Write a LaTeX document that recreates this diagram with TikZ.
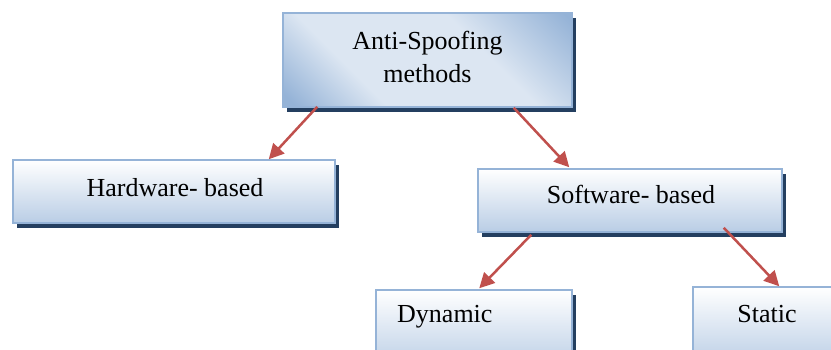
\documentclass[tikz,border=0pt]{standalone}
\usepackage{fontspec}
\setmainfont{Liberation Serif}
\usetikzlibrary{arrows.meta,shadows}
\definecolor{bordc}{HTML}{95B3D7}
\definecolor{shadc}{HTML}{243F60}
\definecolor{darkb}{HTML}{95B3D7}
\definecolor{lightb}{HTML}{DCE6F2}
\definecolor{botb}{HTML}{B9CDE5}
\definecolor{arrc}{HTML}{C0504D}
\pgfdeclarehorizontalshading{diagblue}{100bp}{color(0bp)=(darkb); color(17bp)=(darkb); color(34bp)=(lightb); color(62bp)=(lightb); color(84bp)=(darkb); color(100bp)=(darkb)}
\tikzset{
  box/.style={rectangle, draw=bordc, line width=1.5pt, inner sep=0pt,
    drop shadow={shadow xshift=4pt, shadow yshift=-5pt, fill=shadc, opacity=1}},
  lowbox/.style={box, top color=white, bottom color=botb},
  topbox/.style={box, shading=diagblue, shading angle=45},
  lbl/.style={anchor=base, inner sep=0pt, font=\fontsize{26}{30}\selectfont},
  arr/.style={draw=arrc, line width=2.5pt, -{Triangle[length=15pt,width=15pt]}}
}
\begin{document}
\begin{tikzpicture}[x=1pt,y=-1pt]
\clip (0,0) rectangle (831,350);
\fill[white] (0,0) rectangle (831,350);
\node[topbox, minimum width=289pt, minimum height=94pt] (top) at (427.5,60) {};
\node[lowbox, minimum width=322pt, minimum height=63pt] (hw) at (174,191.5) {};
\node[lowbox, minimum width=304pt, minimum height=63pt] (sw) at (630,200.5) {};
\node[lowbox, minimum width=196pt, minimum height=80pt] (dyn) at (474,330) {};
\node[lowbox, minimum width=200pt, minimum height=80pt] (st) at (793,327) {};
\node[lbl] (t1) at (427.5,50) {Anti-Spoofing};
\node[lbl] (t2) at (427.5,83) {methods};
\node[lbl] (thw) at (175,197) {Hardware- based};
\node[lbl] (tsw) at (631,204) {Software- based};
\node[lbl, anchor=base west] (tdyn) at (397,323) {Dynamic};
\node[lbl] (tst) at (767,322) {Static};
\draw[arr] ([xshift=35pt,yshift=1pt]top.south west) -- ([xshift=-67pt]hw.north east);
\draw[arr] ([xshift=-59pt]top.south east) -- ([xshift=92pt,yshift=1pt]sw.north west);
\draw[arr] ([xshift=54pt,yshift=-2pt]sw.south west) -- ([xshift=104pt,yshift=1pt]dyn.north west);
\draw[arr] ([xshift=-59pt,yshift=5pt]sw.south east) -- ([xshift=87pt]st.north west);
\end{tikzpicture}
\end{document}
